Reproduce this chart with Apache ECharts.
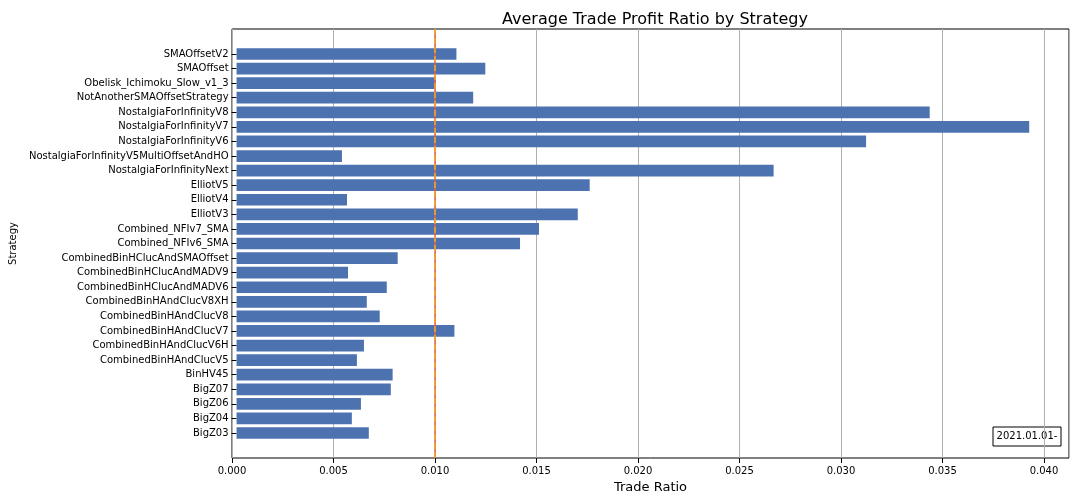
<!DOCTYPE html><html><head><meta charset="utf-8"><script src="https://cdn.jsdelivr.net/npm/echarts@6/dist/echarts.min.js"></script></head><body style="margin:0"><div id="c" style="width:1080px;height:504px"></div><script>
const categories=["SMAOffsetV2","SMAOffset","Obelisk_Ichimoku_Slow_v1_3","NotAnotherSMAOffsetStrategy","NostalgiaForInfinityV8","NostalgiaForInfinityV7","NostalgiaForInfinityV6","NostalgiaForInfinityV5MultiOffsetAndHO","NostalgiaForInfinityNext","ElliotV5","ElliotV4","ElliotV3","Combined_NFIv7_SMA","Combined_NFIv6_SMA","CombinedBinHClucAndSMAOffset","CombinedBinHClucAndMADV9","CombinedBinHClucAndMADV6","CombinedBinHAndClucV8XH","CombinedBinHAndClucV8","CombinedBinHAndClucV7","CombinedBinHAndClucV6H","CombinedBinHAndClucV5","BinHV45","BigZ07","BigZ06","BigZ04","BigZ03"];
const values=[0.01089,0.01232,0.00985,0.01172,0.03433,0.03926,0.03118,0.00522,0.0266,0.01749,0.00547,0.0169,0.01498,0.01404,0.00798,0.00552,0.00744,0.00645,0.00709,0.01079,0.00631,0.00596,0.00773,0.00764,0.00616,0.00571,0.00655];
const medianLine=0.01005, meanLine=0.01251;
const xMin=0, xMax=0.04123;
const F='DejaVu Sans';
const c=echarts.init(document.getElementById('c'));
c.setOption({animation:false,
title:{text:'Average Trade Profit Ratio by Strategy',left:650,top:7,textAlign:'center',textStyle:{fontFamily:F,fontSize:16,fontWeight:'normal',color:'#000'}},
grid:[{left:232,right:11,top:29,bottom:46,show:true,borderColor:'#000',borderWidth:1},{left:232,right:11,top:46.7,bottom:63.7}],
xAxis:[{gridIndex:0,type:'value',min:xMin,max:xMax,interval:0.005,name:'Trade Ratio',nameLocation:'middle',nameGap:22,nameTextStyle:{fontFamily:F,fontSize:13,color:'#000'},
axisLabel:{fontFamily:F,fontSize:10,color:'#000',formatter:v=>v.toFixed(3)},axisLine:{show:false},axisTick:{show:true,lineStyle:{color:'#000'}},splitLine:{lineStyle:{color:'#b0b0b0'}}},
{gridIndex:1,type:'value',min:xMin,max:xMax,show:false}],
yAxis:[{gridIndex:0,type:'value',min:0,max:1,show:false},
{gridIndex:1,type:'category',data:categories,inverse:true,name:'Strategy',nameLocation:'middle',nameGap:207,nameTextStyle:{fontFamily:F,fontSize:10,color:'#000'},
axisLabel:{fontFamily:F,fontSize:10,color:'#000'},axisLine:{show:false},axisTick:{show:true,alignWithLabel:true,lineStyle:{color:'#000'}}}],
series:[{type:'bar',xAxisIndex:1,yAxisIndex:1,data:values,barWidth:11.7,itemStyle:{color:'#4c72b0'}},
{type:'line',xAxisIndex:0,yAxisIndex:0,data:[],markLine:{symbol:'none',silent:true,label:{show:false},data:[{xAxis:medianLine,lineStyle:{color:'#e8604a',type:'solid',width:1.5}},{xAxis:meanLine,lineStyle:{color:'#f5a623',type:'dashed',width:1.5}}]}}],
graphic:[{type:'rect',shape:{x:993,y:427,width:68,height:19},style:{fill:'#fff',stroke:'#000',lineWidth:1}},{type:'text',x:1027,y:436.5,style:{text:'2021.01.01-',fontFamily:F,fontSize:10,fill:'#000',textAlign:'center',textVerticalAlign:'middle'}}]
});
</script></body></html>
